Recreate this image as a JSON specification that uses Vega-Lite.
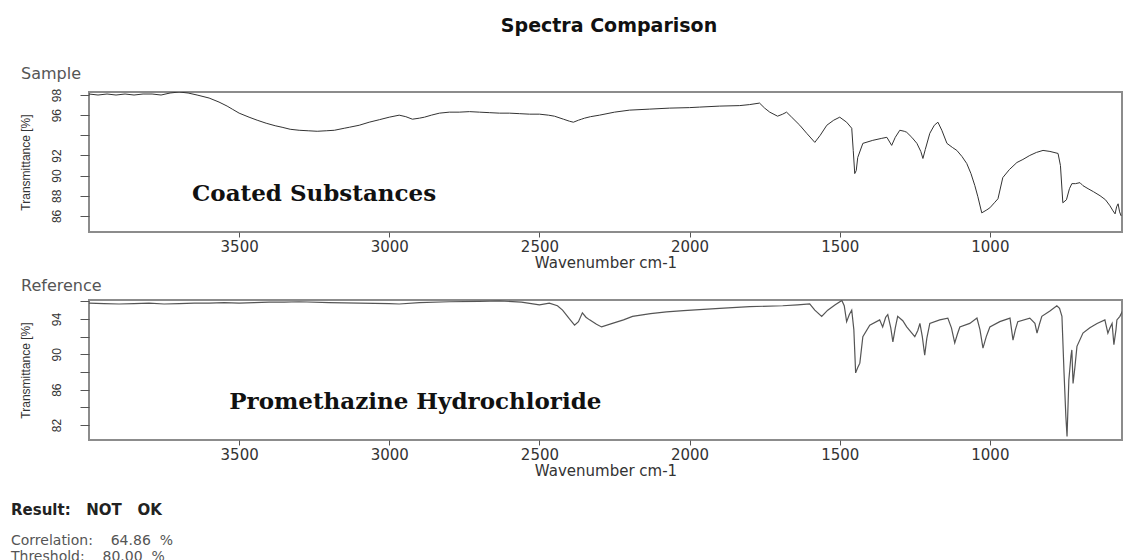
{
  "$schema": "https://vega.github.io/schema/vega-lite/v6.json",
  "background": "white",
  "padding": {"left": 11, "top": 17, "right": 0, "bottom": 0},
  "title": {"text": "Spectra Comparison", "font": "DejaVu Sans", "fontSize": 19, "fontWeight": "bold", "color": "#111111", "anchor": "middle", "offset": 29, "dx": 42},
  "datasets": {
    "sample": [
      {"wn": 4000, "t": 98.1}, {"wn": 3970, "t": 98.0}, {"wn": 3940, "t": 98.1}, {"wn": 3910, "t": 98.0}, {"wn": 3880, "t": 98.1}, {"wn": 3850, "t": 98.0}, {"wn": 3820, "t": 98.1}, {"wn": 3790, "t": 98.1}, {"wn": 3760, "t": 98.0}, {"wn": 3730, "t": 98.2}, {"wn": 3700, "t": 98.3}, {"wn": 3670, "t": 98.2}, {"wn": 3640, "t": 98.0}, {"wn": 3600, "t": 97.7}, {"wn": 3567, "t": 97.3}, {"wn": 3540, "t": 96.9}, {"wn": 3523, "t": 96.6}, {"wn": 3500, "t": 96.2}, {"wn": 3467, "t": 95.8}, {"wn": 3440, "t": 95.5}, {"wn": 3410, "t": 95.2}, {"wn": 3380, "t": 94.95}, {"wn": 3357, "t": 94.8}, {"wn": 3330, "t": 94.6}, {"wn": 3300, "t": 94.5}, {"wn": 3270, "t": 94.45}, {"wn": 3240, "t": 94.4}, {"wn": 3210, "t": 94.45}, {"wn": 3183, "t": 94.5}, {"wn": 3150, "t": 94.7}, {"wn": 3133, "t": 94.8}, {"wn": 3100, "t": 95.0}, {"wn": 3067, "t": 95.3}, {"wn": 3033, "t": 95.55}, {"wn": 3000, "t": 95.8}, {"wn": 2967, "t": 96.0}, {"wn": 2945, "t": 95.85}, {"wn": 2923, "t": 95.6}, {"wn": 2900, "t": 95.7}, {"wn": 2883, "t": 95.8}, {"wn": 2860, "t": 96.0}, {"wn": 2833, "t": 96.2}, {"wn": 2800, "t": 96.3}, {"wn": 2767, "t": 96.3}, {"wn": 2733, "t": 96.35}, {"wn": 2700, "t": 96.3}, {"wn": 2667, "t": 96.25}, {"wn": 2633, "t": 96.2}, {"wn": 2600, "t": 96.2}, {"wn": 2567, "t": 96.15}, {"wn": 2533, "t": 96.1}, {"wn": 2500, "t": 96.1}, {"wn": 2470, "t": 96.0}, {"wn": 2450, "t": 95.9}, {"wn": 2420, "t": 95.6}, {"wn": 2400, "t": 95.4}, {"wn": 2387, "t": 95.3}, {"wn": 2370, "t": 95.5}, {"wn": 2360, "t": 95.6}, {"wn": 2350, "t": 95.7}, {"wn": 2330, "t": 95.85}, {"wn": 2300, "t": 96.0}, {"wn": 2250, "t": 96.3}, {"wn": 2200, "t": 96.5}, {"wn": 2133, "t": 96.6}, {"wn": 2067, "t": 96.7}, {"wn": 2000, "t": 96.75}, {"wn": 1967, "t": 96.8}, {"wn": 1900, "t": 96.9}, {"wn": 1833, "t": 96.95}, {"wn": 1800, "t": 97.05}, {"wn": 1767, "t": 97.2}, {"wn": 1750, "t": 96.7}, {"wn": 1733, "t": 96.3}, {"wn": 1707, "t": 95.9}, {"wn": 1690, "t": 96.1}, {"wn": 1677, "t": 96.3}, {"wn": 1660, "t": 95.8}, {"wn": 1633, "t": 95.0}, {"wn": 1610, "t": 94.2}, {"wn": 1583, "t": 93.3}, {"wn": 1565, "t": 94.0}, {"wn": 1543, "t": 95.0}, {"wn": 1520, "t": 95.5}, {"wn": 1500, "t": 95.8}, {"wn": 1477, "t": 95.3}, {"wn": 1460, "t": 94.7}, {"wn": 1455, "t": 92.5}, {"wn": 1450, "t": 90.2}, {"wn": 1445, "t": 90.5}, {"wn": 1440, "t": 91.8}, {"wn": 1423, "t": 93.2}, {"wn": 1390, "t": 93.5}, {"wn": 1360, "t": 93.7}, {"wn": 1343, "t": 93.8}, {"wn": 1327, "t": 93.0}, {"wn": 1315, "t": 93.8}, {"wn": 1300, "t": 94.5}, {"wn": 1285, "t": 94.4}, {"wn": 1277, "t": 94.3}, {"wn": 1260, "t": 93.8}, {"wn": 1243, "t": 93.2}, {"wn": 1230, "t": 92.4}, {"wn": 1223, "t": 91.7}, {"wn": 1215, "t": 92.6}, {"wn": 1200, "t": 94.2}, {"wn": 1185, "t": 95.0}, {"wn": 1173, "t": 95.3}, {"wn": 1160, "t": 94.5}, {"wn": 1143, "t": 93.2}, {"wn": 1125, "t": 92.8}, {"wn": 1110, "t": 92.5}, {"wn": 1093, "t": 91.9}, {"wn": 1077, "t": 91.2}, {"wn": 1063, "t": 90.2}, {"wn": 1050, "t": 89.0}, {"wn": 1040, "t": 87.9}, {"wn": 1027, "t": 86.3}, {"wn": 1010, "t": 86.6}, {"wn": 1000, "t": 86.8}, {"wn": 985, "t": 87.3}, {"wn": 973, "t": 87.7}, {"wn": 957, "t": 89.8}, {"wn": 935, "t": 90.6}, {"wn": 910, "t": 91.3}, {"wn": 890, "t": 91.6}, {"wn": 867, "t": 92.0}, {"wn": 845, "t": 92.3}, {"wn": 823, "t": 92.5}, {"wn": 800, "t": 92.4}, {"wn": 773, "t": 92.2}, {"wn": 765, "t": 91.0}, {"wn": 757, "t": 87.3}, {"wn": 745, "t": 87.6}, {"wn": 735, "t": 88.7}, {"wn": 727, "t": 89.2}, {"wn": 715, "t": 89.2}, {"wn": 700, "t": 89.3}, {"wn": 690, "t": 89.0}, {"wn": 673, "t": 88.7}, {"wn": 655, "t": 88.4}, {"wn": 633, "t": 88.0}, {"wn": 615, "t": 87.6}, {"wn": 600, "t": 87.0}, {"wn": 590, "t": 86.5}, {"wn": 583, "t": 86.2}, {"wn": 578, "t": 86.9}, {"wn": 573, "t": 87.2}, {"wn": 568, "t": 86.4}, {"wn": 563, "t": 86.0}
    ],
    "reference": [
      {"wn": 4000, "t": 95.8}, {"wn": 3950, "t": 95.75}, {"wn": 3900, "t": 95.7}, {"wn": 3850, "t": 95.75}, {"wn": 3800, "t": 95.8}, {"wn": 3750, "t": 95.7}, {"wn": 3700, "t": 95.75}, {"wn": 3650, "t": 95.8}, {"wn": 3600, "t": 95.8}, {"wn": 3550, "t": 95.85}, {"wn": 3500, "t": 95.8}, {"wn": 3450, "t": 95.85}, {"wn": 3400, "t": 95.9}, {"wn": 3350, "t": 95.9}, {"wn": 3300, "t": 95.95}, {"wn": 3200, "t": 95.85}, {"wn": 3100, "t": 95.8}, {"wn": 3000, "t": 95.75}, {"wn": 2967, "t": 95.7}, {"wn": 2900, "t": 95.85}, {"wn": 2800, "t": 95.95}, {"wn": 2700, "t": 96.0}, {"wn": 2633, "t": 96.05}, {"wn": 2560, "t": 95.9}, {"wn": 2500, "t": 95.6}, {"wn": 2467, "t": 95.8}, {"wn": 2440, "t": 95.5}, {"wn": 2423, "t": 95.0}, {"wn": 2400, "t": 94.0}, {"wn": 2383, "t": 93.3}, {"wn": 2370, "t": 93.7}, {"wn": 2357, "t": 94.7}, {"wn": 2345, "t": 94.2}, {"wn": 2333, "t": 93.9}, {"wn": 2310, "t": 93.4}, {"wn": 2293, "t": 93.1}, {"wn": 2257, "t": 93.5}, {"wn": 2220, "t": 93.9}, {"wn": 2190, "t": 94.3}, {"wn": 2130, "t": 94.6}, {"wn": 2077, "t": 94.8}, {"wn": 2020, "t": 94.95}, {"wn": 1967, "t": 95.05}, {"wn": 1900, "t": 95.2}, {"wn": 1800, "t": 95.4}, {"wn": 1690, "t": 95.5}, {"wn": 1640, "t": 95.6}, {"wn": 1600, "t": 95.7}, {"wn": 1583, "t": 95.0}, {"wn": 1560, "t": 94.3}, {"wn": 1540, "t": 95.0}, {"wn": 1515, "t": 95.6}, {"wn": 1493, "t": 96.1}, {"wn": 1485, "t": 95.5}, {"wn": 1477, "t": 93.7}, {"wn": 1468, "t": 94.5}, {"wn": 1460, "t": 95.0}, {"wn": 1453, "t": 92.8}, {"wn": 1447, "t": 87.9}, {"wn": 1440, "t": 88.5}, {"wn": 1433, "t": 89.0}, {"wn": 1423, "t": 92.0}, {"wn": 1400, "t": 93.3}, {"wn": 1367, "t": 93.9}, {"wn": 1357, "t": 93.1}, {"wn": 1347, "t": 94.2}, {"wn": 1340, "t": 94.5}, {"wn": 1330, "t": 93.0}, {"wn": 1323, "t": 91.4}, {"wn": 1315, "t": 93.0}, {"wn": 1307, "t": 94.3}, {"wn": 1290, "t": 93.8}, {"wn": 1277, "t": 93.1}, {"wn": 1250, "t": 92.0}, {"wn": 1240, "t": 92.7}, {"wn": 1233, "t": 93.5}, {"wn": 1225, "t": 92.0}, {"wn": 1217, "t": 89.9}, {"wn": 1210, "t": 91.8}, {"wn": 1200, "t": 93.5}, {"wn": 1167, "t": 93.9}, {"wn": 1140, "t": 94.1}, {"wn": 1128, "t": 93.0}, {"wn": 1117, "t": 91.3}, {"wn": 1108, "t": 92.3}, {"wn": 1100, "t": 93.1}, {"wn": 1067, "t": 93.5}, {"wn": 1043, "t": 94.1}, {"wn": 1033, "t": 92.8}, {"wn": 1023, "t": 90.7}, {"wn": 1012, "t": 92.0}, {"wn": 1000, "t": 93.1}, {"wn": 967, "t": 93.7}, {"wn": 933, "t": 94.1}, {"wn": 923, "t": 91.6}, {"wn": 915, "t": 92.8}, {"wn": 907, "t": 93.7}, {"wn": 867, "t": 94.1}, {"wn": 850, "t": 93.5}, {"wn": 843, "t": 92.4}, {"wn": 835, "t": 93.4}, {"wn": 827, "t": 94.3}, {"wn": 800, "t": 94.9}, {"wn": 777, "t": 95.5}, {"wn": 768, "t": 95.2}, {"wn": 760, "t": 94.3}, {"wn": 753, "t": 87.9}, {"wn": 747, "t": 83.0}, {"wn": 743, "t": 80.7}, {"wn": 737, "t": 87.1}, {"wn": 730, "t": 89.8}, {"wn": 727, "t": 90.5}, {"wn": 723, "t": 86.7}, {"wn": 717, "t": 88.5}, {"wn": 710, "t": 90.9}, {"wn": 690, "t": 92.4}, {"wn": 667, "t": 93.0}, {"wn": 643, "t": 93.5}, {"wn": 617, "t": 93.9}, {"wn": 607, "t": 92.4}, {"wn": 600, "t": 93.0}, {"wn": 593, "t": 93.5}, {"wn": 587, "t": 91.1}, {"wn": 580, "t": 92.8}, {"wn": 577, "t": 93.9}, {"wn": 567, "t": 94.3}, {"wn": 557, "t": 95.0}
    ]
  },
  "config": {
    "view": {"stroke": "#8c8c8c", "strokeWidth": 2},
    "axis": {"grid": false, "domain": false, "tickColor": "#555555", "labelColor": "#333333", "titleColor": "#333333", "titleFontWeight": "normal", "labelOverlap": false},
    "axisX": {"tickSize": 5, "labelFont": "DejaVu Sans", "labelFontSize": 15, "titleFont": "DejaVu Sans", "titleFontSize": 15, "labelPadding": 2, "titlePadding": 1, "format": "d"},
    "axisY": {"tickSize": 9, "labelAngle": -90, "labelAlign": "center", "labelBaseline": "bottom", "labelFont": "Liberation Sans Narrow, Liberation Sans", "labelFontSize": 12, "titleFont": "Liberation Sans Narrow, Liberation Sans", "titleFontSize": 12, "labelPadding": 17, "titlePadding": 18, "labelOverlap": false}
  },
  "vconcat": [
    {
      "vconcat": [
        {
          "width": 1033,
          "height": 140,
          "title": {"text": "Sample", "anchor": "start", "frame": "group", "dx": -68, "font": "DejaVu Sans", "fontSize": 16, "fontWeight": "normal", "color": "#555555", "offset": 6},
          "layer": [
            {
              "data": {"name": "sample"},
              "mark": {"type": "line", "color": "#333333", "strokeWidth": 1, "clip": true},
              "encoding": {
                "x": {"field": "wn", "type": "quantitative", "scale": {"domain": [560, 4000], "reverse": true, "nice": false, "zero": false}, "axis": {"title": "Wavenumber cm-1", "values": [3500, 3000, 2500, 2000, 1500, 1000], "format": "d", "labelOverlap": false}},
                "y": {"field": "t", "type": "quantitative", "scale": {"domain": [84.4, 98.3], "nice": false, "zero": false}, "axis": {"title": "Transmittance [%]", "values": [86, 88, 90, 92, 94, 96, 98], "labelOverlap": false, "labelExpr": "datum.value == 94 ? '' : datum.label"}}
              }
            },
            {
              "data": {"values": [{}]},
              "mark": {"type": "text", "font": "DejaVu Serif", "fontWeight": "bold", "fontSize": 23, "align": "left", "baseline": "middle", "color": "#111111"},
              "encoding": {
                "x": {"datum": 3657, "type": "quantitative", "axis": {"title": "Wavenumber cm-1", "values": [3500, 3000, 2500, 2000, 1500, 1000], "format": "d", "labelOverlap": false}},
                "y": {"datum": 88.2, "type": "quantitative", "axis": {"title": "Transmittance [%]", "values": [86, 88, 90, 92, 94, 96, 98], "labelOverlap": false, "labelExpr": "datum.value == 94 ? '' : datum.label"}},
                "text": {"value": "Coated Substances"}
              }
            }
          ]
        },
        {
          "width": 1033,
          "height": 140,
          "title": {"text": "Reference", "anchor": "start", "frame": "group", "dx": -68, "font": "DejaVu Sans", "fontSize": 16, "fontWeight": "normal", "color": "#555555", "offset": 6},
          "layer": [
            {
              "data": {"name": "reference"},
              "mark": {"type": "line", "color": "#555555", "strokeWidth": 1.2, "clip": true},
              "encoding": {
                "x": {"field": "wn", "type": "quantitative", "scale": {"domain": [560, 4000], "reverse": true, "nice": false, "zero": false}, "axis": {"title": "Wavenumber cm-1", "values": [3500, 3000, 2500, 2000, 1500, 1000], "format": "d", "labelOverlap": false}},
                "y": {"field": "t", "type": "quantitative", "scale": {"domain": [80.3, 96.15], "nice": false, "zero": false}, "axis": {"title": "Transmittance [%]", "values": [82, 84, 86, 88, 90, 92, 94, 96], "labelOverlap": false, "labelExpr": "(datum.value == 82 || datum.value == 86 || datum.value == 90 || datum.value == 94) ? datum.label : ''"}}
              }
            },
            {
              "data": {"values": [{}]},
              "mark": {"type": "text", "font": "DejaVu Serif", "fontWeight": "bold", "fontSize": 23, "align": "left", "baseline": "middle", "color": "#111111"},
              "encoding": {
                "x": {"datum": 3533, "type": "quantitative", "axis": {"title": "Wavenumber cm-1", "values": [3500, 3000, 2500, 2000, 1500, 1000], "format": "d", "labelOverlap": false}},
                "y": {"datum": 84.6, "type": "quantitative", "axis": {"title": "Transmittance [%]", "values": [82, 84, 86, 88, 90, 92, 94, 96], "labelOverlap": false, "labelExpr": "(datum.value == 82 || datum.value == 86 || datum.value == 90 || datum.value == 94) ? datum.label : ''"}},
                "text": {"value": "Promethazine Hydrochloride"}
              }
            }
          ]
        }
      ],
      "spacing": 6
    },
    {
      "width": 1033,
      "height": 24,
      "view": {"stroke": null},
      "data": {"values": []},
      "mark": {"type": "point", "opacity": 0},
      "title": {"text": "Result:\u00a0\u00a0 NOT\u00a0\u00a0 OK", "subtitle": ["Correlation:\u00a0\u00a0\u00a0 64.86\u00a0\u00a0%", "Threshold:\u00a0\u00a0\u00a0 80.00\u00a0\u00a0%"], "orient": "bottom", "anchor": "start", "frame": "group", "dx": -78, "font": "DejaVu Sans", "fontSize": 15, "fontWeight": "bold", "color": "#222222", "subtitleFont": "DejaVu Sans", "subtitleFontSize": 14, "subtitleColor": "#555555", "subtitlePadding": 16, "subtitleLineHeight": 16, "offset": 0}
    }
  ],
  "spacing": 0
}
